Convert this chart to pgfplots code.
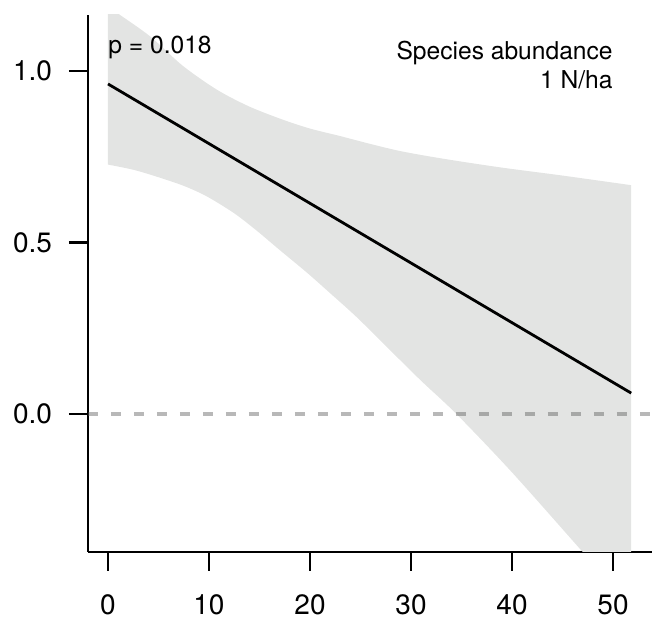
\documentclass[border=0pt]{standalone}
\usepackage{pgfplots}
\pgfplotsset{compat=1.18}
\usepgfplotslibrary{fillbetween}
\usepackage{fontspec}
\setmainfont{TeX Gyre Heros}

\definecolor{band}{HTML}{E3E4E3}
\definecolor{zeroline}{HTML}{5A5A5A}

\begin{document}
\begin{tikzpicture}
  \begin{axis}[
      name=ax,
      scale only axis,
      width=282pt, height=268.5pt,
      xmin=-1.98, xmax=53.86,
      ymin=-0.402, ymax=1.163,
      axis x line*=bottom,
      axis y line*=left,
      axis line style={-, line width=1.3pt},
      xtick={0,10,20,30,40,50},
      ytick={0,0.5,1},
      yticklabels={0.0,0.5,1.0},
      tick align=outside,
      major tick length=9.5pt,
      tick style={line width=1.3pt, black},
      /pgf/number format/assume math mode=true,
      tick label style={font=\fontsize{14}{16}\selectfont},
      xticklabel style={inner sep=1pt, yshift=-10.5pt},
      yticklabel style={xshift=-5pt},
      clip=true,
    ]
    % confidence band
    \addplot [name path=up, draw=none, smooth] coordinates {
      (0,1.188) (1.2,1.163) (4.2,1.100) (7.4,1.015) (10.8,0.945)
      (14,0.896) (17.3,0.858) (20,0.832) (23,0.810) (26,0.787)
      (29,0.766) (33,0.745) (38.8,0.719) (45,0.695) (51.8,0.667)
    };
    \addplot [name path=lo, draw=none, smooth] coordinates {
      (0,0.727) (2.5,0.712) (4.8,0.692) (7.5,0.665) (9.8,0.634) (12.5,0.585)
      (14.7,0.535) (17,0.478) (19.7,0.412) (22,0.352) (24.6,0.283)
      (27.9,0.187) (31,0.097) (34.5,0.0) (40,-0.170) (47,-0.402) (51.8,-0.56)
    };
    \addplot [band, draw=none] fill between [of=up and lo];

    % zero reference
    \addplot [zeroline, opacity=0.43, line width=1.8pt,
              dash pattern=on 5pt off 6.5pt] coordinates {(-1.98,0) (53.86,0)};

    % fitted line
    \addplot [black, line width=1.4pt] coordinates {(0,0.962) (51.8,0.061)};

    \node [anchor=base west, inner sep=0, font=\fontsize{12.3}{14}\selectfont]
      at (axis cs:0,1.052) {p = 0.018};
    \node [anchor=base east, inner sep=0, font=\fontsize{12.3}{14}\selectfont]
      at (axis cs:50,1.032) {Species abundance};
    \node [anchor=base east, inner sep=0, font=\fontsize{12.3}{14}\selectfont]
      at (axis cs:50,0.948) {1 N/ha};
  \end{axis}
  \pgfresetboundingbox
  \path ([shift={(-44pt,-33.5pt)}]ax.south west) rectangle ([shift={(0pt,7.5pt)}]ax.north east);
\end{tikzpicture}
\end{document}
